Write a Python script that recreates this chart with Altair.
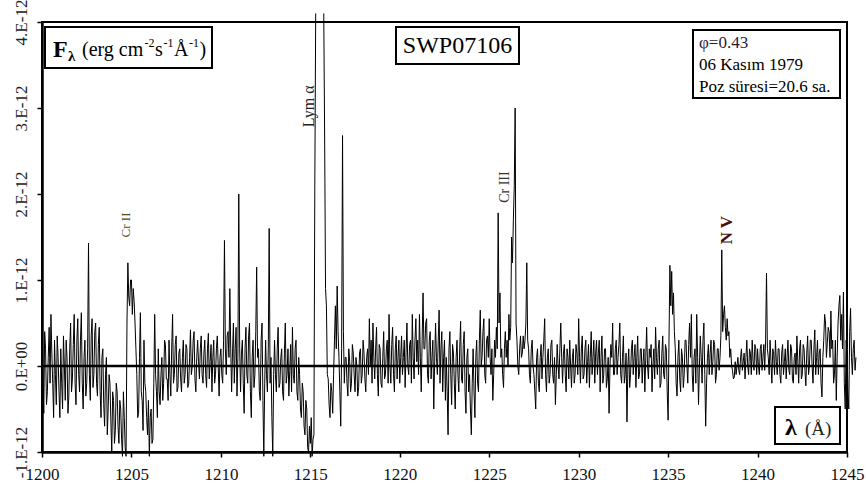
import altair as alt
import pandas as pd

# ---------------- data (flux in units of 1E-12 erg cm-2 s-1 A-1) ----------------
wave_start = 1200.0
wave_step = 0.05
# one row per Angstrom: values at X.00, X.05, ..., X.95
flux_rows = [
    [0.65, -0.1, -0.55, 0.4, 0.2, -0.45, -0.3, 0.1, 0.45, -0.2, 0.6, 0.15, -0.2, -0.6, 0.3, -0.1, -0.45, 0.35, 0.1, -0.3],   # 1200
    [-0.6, 0.2, -0.2, -0.5, 0.35, 0.0, -0.4, 0.3, 0.1, -0.55, -0.35, 0.2, 0.5, -0.3, -0.15, 0.25, 0.6, -0.2, -0.45, 0.3],   # 1201
    [0.55, -0.1, -0.3, 0.3, 0.62, -0.2, -0.5, 0.1, 0.3, -0.35, -0.2, 0.2, 1.43, -0.1, -0.4, 0.35, 0.55, -0.25, -0.1, 0.4],  # 1202
    [0.5, -0.2, -0.35, 0.25, 0.45, -0.3, -0.6, 0.1, 0.2, -0.45, -0.7, -0.1, 0.1, -0.8, -0.5, -0.1, -0.2, -0.65, -1.0, -0.3], # 1203
    [-0.4, -0.9, -0.75, -0.2, -0.3, -0.7, -0.9, -0.4, -0.5, -0.85, -1.05, -0.3, -0.6, -0.95, -1.05, 0.5, 1.2, 0.8, 0.7, 1.0], # 1204
    [1.0, 0.6, 0.9, 0.75, 0.5, 0.2, -0.1, -0.6, -0.55, 0.1, 0.62, -0.3, -0.4, -0.75, 0.3, -0.2, -0.3, -0.6, -0.8, -0.4],   # 1205
    [-1.05, -0.6, -0.5, -0.9, -0.85, -0.2, 0.6, -0.1, -0.3, -0.6, 0.2, -0.3, -0.45, -0.1, 0.1, -0.4, -0.2, 0.3, 0.25, -0.15], # 1206
    [-0.15, -0.4, 0.3, -0.1, -0.35, 0.2, 0.6, -0.2, -0.1, 0.25, 0.35, -0.3, -0.25, 0.15, 0.2, -0.15, -0.3, 0.1, 0.3, -0.2],  # 1207
    [-0.1, 0.25, 0.2, -0.25, -0.2, 0.1, 0.42, -0.1, 0.0, 0.3, 0.4, -0.15, -0.3, 0.1, 0.3, 0.05, -0.15, 0.2, 0.35, -0.1],   # 1208
    [-0.2, 0.15, 0.3, -0.1, -0.25, 0.2, 0.38, -0.15, 0.05, 0.25, -0.3, 0.1, 0.3, -0.2, -0.1, 0.2, 0.35, 0.0, -0.35, 0.1],   # 1209
    [0.2, -0.1, -0.2, 0.3, 1.46, 0.2, -0.1, 0.35, 0.4, 0.1, 0.9, 0.2, -0.3, 0.15, 0.5, -0.2, 0.2, 0.45, -0.35, 0.1],        # 1210
    [2.0, 0.2, -0.3, 0.15, 0.3, -0.2, -0.55, 0.2, 0.45, -0.1, -0.2, 0.35, 0.5, -0.3, -0.6, 0.1, 0.3, -0.25, -0.1, 0.4],     # 1211
    [1.15, 0.1, 0.2, -0.3, -0.4, 0.3, 0.5, -0.4, -1.05, -0.2, 0.3, -0.1, -0.3, 0.2, 1.6, -0.2, 0.1, -0.6, -1.05, -0.1],     # 1212
    [0.3, -0.1, -0.3, 0.2, 0.45, -0.25, -0.2, 0.1, 0.2, -0.3, -0.4, 0.15, 0.5, -0.2, -0.1, 0.2, -0.35, -0.05, 0.25, -0.3],  # 1213
    [0.45, -0.1, -0.2, 0.2, 0.3, -0.3, -0.4, 0.1, -0.1, -0.5, -0.6, -0.2, -0.3, -0.7, -0.8, -0.4, -0.5, -0.95, -1.0, -0.7], # 1214
    [-0.9, -0.6, -1.05, -0.85, -0.8, 2.07, 4.1, None, None, None, None, None, None, None, None, 4.1, 2.65, 0.9, 0.7, -0.1], # 1215 Ly alpha (off scale)
    [-0.15, -0.45, -0.6, -0.2, -0.3, -0.55, -0.1, 0.3, 0.7, 0.2, 0.93, 0.4, 0.1, -0.3, -0.7, 0.2, 2.68, 0.4, -0.2, 0.1],   # 1216
    [0.1, -0.2, -0.35, 0.2, 0.05, -0.3, -0.2, 0.25, 0.15, -0.1, -0.3, 0.1, 0.0, -0.35, -0.25, 0.15, 0.2, -0.2, -0.1, 0.3],  # 1217
    [0.15, -0.15, -0.3, 0.1, 0.2, -0.1, 0.55, 0.0, 0.3, -0.2, 0.5, 0.1, -0.15, 0.2, 0.45, -0.1, -0.35, 0.25, 0.2, -0.2],    # 1218
    [-0.25, 0.1, 0.4, -0.15, -0.1, 0.2, 0.3, -0.2, 0.6, 0.0, -0.2, 0.25, 0.45, -0.1, -0.3, 0.2, 0.35, -0.15, 0.1, 0.3],     # 1219
    [-0.2, 0.1, 0.35, -0.1, 0.1, 0.3, -0.25, 0.15, 0.5, 0.0, -0.1, 0.25, 0.3, -0.2, 0.6, 0.1, -0.15, 0.3, 0.55, 0.05],      # 1220
    [0.3, -0.1, 0.6, 0.1, -0.3, 0.3, 0.85, 0.2, 0.2, 0.5, 0.55, -0.1, -0.2, 0.3, 0.4, -0.15, 0.1, 0.3, -0.5, 0.05],         # 1221
    [0.5, 0.1, -0.1, 0.3, 0.65, -0.2, 0.2, 0.4, -0.3, 0.1, 0.3, -0.4, 0.1, -0.3, -0.8, 0.2, 0.4, -0.1, -0.45, 0.25],        # 1222
    [0.15, -0.2, -0.5, 0.1, 0.3, -0.1, -0.3, 0.2, 0.52, -0.15, -0.2, 0.25, 0.4, -0.3, -0.55, 0.1, 0.2, -0.3, -0.1, -0.5],   # 1223
    [-0.8, -0.2, 0.2, -0.3, -0.6, 0.1, 0.3, -0.2, -0.3, 0.3, 0.65, 0.0, 0.1, 0.4, 0.55, -0.1, -0.2, 0.3, 0.35, 0.1],        # 1224
    [0.55, 0.1, -0.1, 0.2, -0.4, -0.1, 0.3, 0.1, 0.45, 0.2, 1.78, 0.5, 0.85, 0.1, 0.2, -0.1, -0.25, 0.2, 0.4, 0.1],         # 1225
    [0.3, 0.0, 0.6, 0.3, 0.45, 1.5, 1.2, 1.7, 2.1, 3.0, 0.5, 0.3, 0.0, -0.1, 0.2, 0.35, 0.1, 0.15, 0.35, 0.2],              # 1226
    [0.3, 0.5, 1.2, 0.3, 0.2, -0.1, -0.2, 0.2, 0.3, 0.0, -0.1, -0.3, -0.5, 0.1, 0.2, -0.2, -0.3, 0.1, 0.25, -0.15],         # 1227
    [0.1, 0.3, 0.55, -0.1, -0.3, 0.1, 0.2, -0.2, -0.1, 0.25, 0.3, -0.1, -0.2, 0.1, -0.45, -0.1, 0.25, 0.0, -0.15, 0.2],     # 1228
    [0.5, 0.1, -0.2, 0.15, 0.25, -0.1, -0.3, 0.2, 0.1, -0.15, 0.3, 0.0, -0.25, 0.1, 0.2, -0.2, -0.1, 0.25, 0.15, -0.1],     # 1229
    [0.55, 0.1, -0.2, 0.2, 0.35, -0.15, -0.1, 0.2, 0.3, -0.2, 0.05, 0.25, -0.25, 0.1, 0.4, -0.1, 0.1, 0.3, -0.2, 0.15],     # 1230
    [0.3, -0.1, 0.15, 0.3, -0.3, 0.1, 0.35, -0.2, -0.1, 0.2, 0.2, -0.25, -0.15, 0.1, -0.55, 0.0, 0.25, 0.1, 0.5, -0.1],     # 1231
    [-0.1, 0.2, 0.3, -0.1, 0.1, 0.25, 0.5, -0.1, -0.2, 0.1, 0.35, -0.2, -0.1, 0.15, -0.65, 0.0, 0.2, -0.25, -0.1, 0.2],     # 1232
    [0.3, -0.1, 0.1, 0.25, -0.25, 0.1, 0.35, -0.15, -0.1, 0.2, 0.2, -0.2, 0.05, 0.2, -0.3, 0.1, 0.45, 0.0, -0.15, 0.2],     # 1233
    [0.1, 0.25, -0.3, 0.0, 0.2, -0.15, 0.45, 0.1, -0.1, 0.2, 0.3, -0.25, -0.2, 0.15, 0.35, -0.1, -0.15, 0.25, 0.2, -0.3],   # 1234
    [-0.63, 0.3, 1.17, 0.7, 1.1, 0.6, 0.85, 0.4, 0.2, -0.2, -0.35, 0.1, 0.3, -0.15, -0.3, 0.2, 0.1, -0.25, -0.1, 0.3],      # 1235
    [0.3, 0.0, -0.2, 0.25, 0.5, 0.1, 0.6, -0.1, -0.3, 0.1, 0.2, -0.2, 0.6, 0.1, -0.45, 0.0, 0.35, 0.1, -0.2, 0.3],          # 1236
    [0.5, -0.1, -0.7, -0.2, 0.1, 0.25, -0.1, 0.15, 0.3, -0.1, 0.05, 0.3, 0.25, -0.2, -0.1, 0.2, 0.2, -0.05, 0.1, 0.35],     # 1237
    [1.35, 0.4, 0.6, 0.7, 0.45, 0.3, 0.55, 0.35, 0.4, 0.1, 0.2, 0.0, -0.05, -0.15, -0.13, 0.05, -0.1, 0.0, 0.1, -0.05],     # 1238
    [-0.1, 0.1, 0.2, -0.05, 0.05, 0.15, -0.15, 0.1, 0.3, 0.0, -0.1, 0.2, 0.15, -0.1, 0.3, 0.05, -0.05, 0.25, 0.2, -0.1],    # 1239
    [0.2, 0.0, -0.1, 0.2, 0.25, -0.05, 0.1, 0.25, -0.05, 0.3, 1.08, 0.2, 0.1, -0.1, 0.3, 0.05, -0.2, 0.2, 0.15, -0.1],      # 1240
    [0.3, 0.05, -0.1, 0.2, 0.2, -0.1, -0.2, 0.15, 0.25, -0.1, 0.05, 0.2, -0.15, 0.1, 0.3, -0.05, -0.1, 0.25, 0.2, -0.15],   # 1241
    [-0.2, 0.1, 0.15, -0.1, 0.35, 0.05, -0.2, 0.2, 0.3, -0.15, -0.1, 0.25, 0.2, -0.05, -0.23, 0.15, 0.35, -0.1, 0.0, 0.3],  # 1242
    [0.3, 0.0, -0.2, 0.2, 0.42, -0.1, 0.1, 0.3, -0.1, 0.15, 0.2, -0.2, -0.36, 0.1, 0.3, 0.6, 0.5, 0.1, 0.27, 0.45],         # 1243
    [0.4, 0.1, 0.64, 0.2, 0.3, -0.2, -0.1, 0.3, -0.4, 0.1, 0.5, 0.7, 0.82, 0.3, 0.6, 0.2, 0.86, -0.2, -0.5, 0.3],           # 1244
    [0.2, -0.3, -0.5, 0.4, 0.67, 0.1, -0.1, 0.2, 0.3, -0.05, 0.1],                                                          # 1245
]

x_ticks = [1200, 1205, 1210, 1215, 1220, 1225, 1230, 1235, 1240, 1245]
y_ticks = [-1, 0, 1, 2, 3, 4]

line_ids = ["Cr II", "Lym α", "Cr III", "N V"]
line_id_wave = [1204.7, 1214.92, 1225.88, 1238.29]
line_id_flux = [1.64, 3.02, 2.08, 1.58]

info_lines = ["φ=0.43", "06 Kasım 1979", "Poz süresi=20.6 sa."]
spectrum_id = "SWP07106"

# ---------------- build table ----------------
waves, fluxes = [], []
for i, row in enumerate(flux_rows):
    for j, v in enumerate(row):
        waves.append(round(wave_start + i + j * wave_step, 3))
        fluxes.append(v)
df = pd.DataFrame({"wave": waves, "flux": fluxes})

SERIF = "Liberation Serif"

x_enc = alt.X(
    "wave:Q",
    scale=alt.Scale(domain=[1200, 1245], nice=False, zero=False),
    axis=alt.Axis(
        values=x_ticks, format="d", title=None, grid=False,
        labelFont=SERIF, labelFontSize=17, labelColor="#111",
        domainColor="black", domainWidth=2.5, tickColor="black",
        tickSize=5, tickWidth=1.5, labelPadding=9, labelFlush=False,
        labelOverlap=False,
    ),
)
y_enc = alt.Y(
    "flux:Q",
    scale=alt.Scale(domain=[-1, 4], nice=False, zero=False),
    axis=alt.Axis(
        values=y_ticks, title=None, grid=False,
        labelExpr="datum.value == 0 ? '0.E+00' : datum.value + '.E-12'",
        labelFont=SERIF, labelFontSize=17, labelColor="#222",
        labelAngle=270, labelAlign="center", labelBaseline="middle",
        labelPadding=16, labelFlush=False, labelOverlap=False,
        domainColor="black", domainWidth=2.5, tickColor="black",
        tickSize=5, tickWidth=1.5,
    ),
)

spectrum = alt.Chart(df).mark_line(
    color="black", strokeWidth=1, clip=False,
    invalid="break-paths-filter-domains",
).encode(x=x_enc, y=y_enc)

zero_df = pd.DataFrame({"flux": [0]})
zero_line = alt.Chart(zero_df).mark_rule(color="black", strokeWidth=2.5).encode(
    y="flux:Q"
)

# line identifications (rotated)
id_df = pd.DataFrame({"wave": line_id_wave, "flux": line_id_flux, "label": line_ids})
id_styles = [
    dict(fontSize=13, color="#5a4a14", fontWeight="normal"),
    dict(fontSize=16, color="#222222", fontWeight="normal"),
    dict(fontSize=14, color="#333333", fontWeight="normal"),
    dict(fontSize=17, color="#4a0d0d", fontWeight="bold"),
]
id_layers = []
for k, st in enumerate(id_styles):
    id_layers.append(
        alt.Chart(id_df.iloc[[k]]).mark_text(
            angle=270, align="center", baseline="middle", font=SERIF, **st
        ).encode(x="wave:Q", y="flux:Q", text="label:N")
    )

one = alt.Data(values=[{}])


def box(x1, y1, x2, y2, sw=2):
    return alt.Chart(one).mark_rect(
        fill="white", stroke="black", strokeWidth=sw
    ).encode(x=alt.value(x1), x2=alt.value(x2), y=alt.value(y1), y2=alt.value(y2))


def txt(text, x, y, size, bold=False, align="left", color="black"):
    return alt.Chart(one).mark_text(
        text=text, align=align, baseline="alphabetic", fontSize=size,
        fontWeight="bold" if bold else "normal", font=SERIF, color=color,
    ).encode(x=alt.value(x), y=alt.value(y))


annotations = [
    # F_lambda unit box
    box(3, 5, 170, 46),
    txt("F", 11, 35, 24, bold=True),
    txt("λ", 26, 39, 15, bold=True),
    txt("(erg cm", 40, 34, 20),
    txt("-2", 102.5, 25, 12),
    txt("s", 113, 34, 20),
    txt("-1", 121.5, 25, 12),
    txt("Å", 132, 34, 20),
    txt("-1", 147, 25, 12),
    txt(")", 157.5, 34, 20),
    # spectrum id box
    box(354, 5, 477, 42),
    txt(spectrum_id, 415.5, 31, 24, align="center"),
    # info box
    box(651, 8, 798, 76),
    txt(info_lines[0], 657, 26, 17, color="#2a1a3a"),
    txt(info_lines[1], 657, 48, 17),
    txt(info_lines[2], 657, 70, 17),
    # lambda box
    box(733, 385, 798, 422),
    txt("λ", 743, 413, 24, bold=True),
    txt("(Å)", 763, 413, 19, color="#222"),
]

chart = alt.layer(spectrum, zero_line, *id_layers, *annotations).properties(
    width=805,
    height=430,
    padding={"left": 42, "top": 22, "right": 19, "bottom": 36},
    autosize=alt.AutoSizeParams(type="none"),
    background="white",
).configure_view(stroke="black", strokeWidth=2)

chart.save("out.html", embed_options={"renderer": "svg", "actions": False})
